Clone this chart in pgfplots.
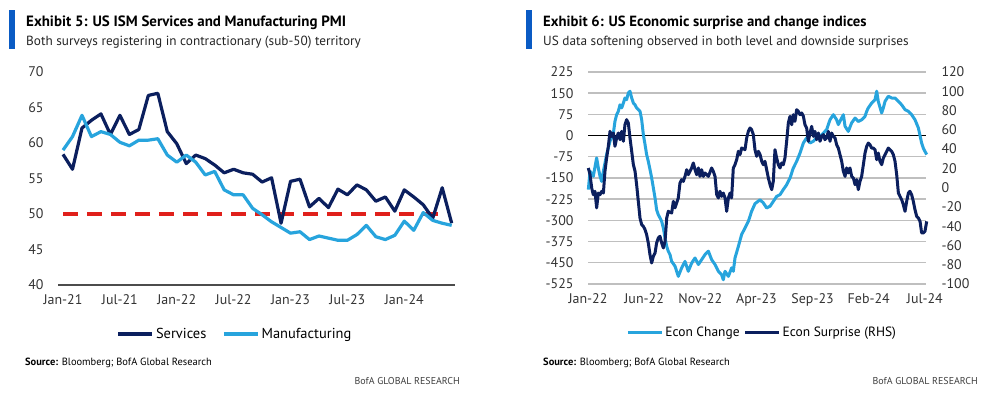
\documentclass[border=0pt]{standalone}
\usepackage{pgfplots}
\pgfplotsset{compat=1.18}
\usepackage{pgfplotstable}
\usepackage{fontspec}
\setmainfont{PT Sans}
\definecolor{navy}{HTML}{0B1F5E}
\definecolor{lblue}{HTML}{27A4DD}
\definecolor{bbar}{HTML}{0A5BC4}
\definecolor{pmired}{HTML}{E0201B}

\pgfplotstableread{
m services manufacturing
0 58.4 59.0
1 56.3 60.9
2 62.1 63.9
3 63.2 60.9
4 64.1 61.6
5 61.2 61.2
6 63.9 60.1
7 61.2 59.6
8 61.9 60.4
9 66.7 60.4
10 67.0 60.6
11 61.6 58.3
12 59.9 57.3
13 57.1 58.3
14 58.3 57.3
15 57.8 55.5
16 56.9 56.0
17 55.8 53.4
18 56.3 52.7
19 55.8 52.7
20 55.6 50.8
21 54.5 49.9
22 55.1 48.9
23 48.7 48.1
24 54.6 47.3
25 54.9 47.5
26 51.0 46.4
27 52.2 46.9
28 50.9 46.6
29 53.5 46.3
30 52.7 46.3
31 54.1 47.1
32 53.4 48.4
33 51.8 46.8
34 52.4 46.4
35 50.4 47.0
36 53.4 49.0
37 52.4 47.7
38 51.3 50.2
39 49.4 49.1
40 53.7 48.7
41 48.7 48.4
}\pmitable

\pgfplotstableread{
m change
0.03 -191
0.18 -126
0.47 -144
0.77 -79
0.92 -115
1.07 -144
1.22 -162
1.37 -126
1.66 -67
1.96 -20
2.26 9
2.40 50
2.55 74
2.70 86
2.85 109
3.00 98
3.15 115
3.29 133
3.44 127
3.59 151
3.74 157
3.89 133
4.04 115
4.19 109
4.33 98
4.48 92
4.63 86
4.78 56
4.93 3
5.08 -32
5.22 -67
5.37 -91
5.52 -120
5.67 -150
5.82 -185
5.97 -221
6.11 -262
6.26 -280
6.41 -291
6.56 -303
6.71 -327
6.86 -362
7.01 -392
7.15 -409
7.30 -421
7.45 -445
7.75 -462
8.04 -498
8.34 -468
8.64 -445
8.93 -480
9.23 -451
9.53 -433
9.83 -456
10.12 -439
10.42 -421
10.72 -409
11.01 -439
11.31 -456
11.61 -480
11.90 -492
12.05 -510
12.20 -480
12.50 -498
12.79 -468
12.94 -480
13.09 -433
13.39 -392
13.68 -350
13.98 -327
14.28 -303
14.57 -268
14.87 -241
15.32 -227
15.61 -238
15.91 -256
16.21 -250
16.50 -233
16.80 -215
17.10 -209
17.39 -191
17.69 -174
17.99 -150
18.28 -115
18.58 -91
18.88 -62
19.18 -26
19.47 -8
19.77 -26
20.07 -20
20.36 -8
20.66 -3
20.96 9
21.25 21
21.55 56
21.85 74
22.14 56
22.29 39
22.74 74
22.89 33
23.18 15
23.48 45
23.78 62
24.07 50
24.37 56
24.67 68
24.82 86
24.96 98
25.26 115
25.56 127
25.71 157
25.85 121
26.15 80
26.30 98
26.45 121
26.74 139
27.04 133
27.34 133
27.64 121
27.93 109
28.23 92
28.53 86
28.82 74
29.12 56
29.42 27
29.71 -26
29.86 -44
30.01 -56
30.16 -67
}\changetable

\pgfplotstableread{
m surprise
0.03 20.4
0.18 13.5
0.33 -0.4
0.47 -7.3
0.62 -3.8
0.77 -21
0.92 -5.6
1.07 -7.3
1.22 -3.8
1.37 -5.6
1.51 16.9
1.66 30.8
1.81 42.9
1.96 58.4
2.11 53.2
2.26 56.7
2.40 42.9
2.55 51.5
2.70 56.7
2.85 49.8
3.00 58.4
3.15 48.1
3.29 65.3
3.44 70.5
3.59 67.1
3.74 51.5
3.89 37.7
4.04 23.8
4.19 16.9
4.33 3.1
4.48 -14.2
4.63 -31.5
4.78 -38.4
4.93 -40.2
5.08 -43.6
5.22 -48.8
5.37 -57.4
5.52 -69.6
5.67 -78.2
5.82 -71.3
5.97 -67.8
6.11 -57.4
6.26 -52.3
6.41 -50.5
6.56 -57.4
6.71 -62.6
6.86 -55.7
7.01 -31.5
7.15 -24.6
7.45 -26.3
7.60 -14.2
7.75 -21
8.04 -10.7
8.19 4.8
8.34 8.3
8.49 6.5
8.64 11.7
8.79 18.6
8.93 13.4
9.23 20.4
9.38 25.6
9.53 18.6
9.68 13.4
9.83 20.4
9.97 11.7
10.12 18.6
10.27 11.7
10.42 15.2
10.72 11.7
11.01 20.4
11.16 16.9
11.31 11.7
11.46 -7.3
11.61 -10.7
11.75 -3.8
11.90 -9
12.05 -5.6
12.20 -10.7
12.35 -24.6
12.50 -10.7
12.65 -5.6
12.79 -10.7
12.94 20.4
13.09 23.8
13.24 29
13.39 37.7
13.54 34.3
13.68 41.1
13.98 39.4
14.13 51.5
14.28 58.4
14.43 61.9
14.57 60.2
14.72 55
14.87 39.4
15.02 32.5
15.17 37.7
15.32 34.3
15.47 27.3
15.61 23.8
15.76 27.3
15.91 18.6
16.06 10
16.21 3.1
16.36 -2.1
16.50 6.5
16.65 39.4
16.80 30.8
16.95 23.8
17.10 20.4
17.25 25.6
17.39 23.8
17.54 30.8
17.69 48.1
17.84 67.1
17.99 74
18.14 65.3
18.28 75.7
18.43 68.8
18.58 80.9
18.73 79.2
18.88 75.7
19.03 77.5
19.18 74
19.32 65.3
19.47 61.9
19.62 48.1
19.77 56.7
19.92 63.6
20.07 53.2
20.21 58.4
20.36 49.8
20.51 56.7
20.66 48.1
20.81 53.2
20.96 55
21.10 49.8
21.25 51.5
21.40 58.4
21.55 48.1
21.70 56.7
21.85 53.2
22.00 51.5
22.14 44.6
22.29 41.1
22.44 34.2
22.59 27.3
22.74 16.9
22.89 11.7
23.03 20.4
23.18 15.2
23.33 20.4
23.48 11.7
23.63 10
23.78 3.1
23.93 8.3
24.07 -2.1
24.22 6.5
24.37 11.7
24.52 23.8
24.67 35.9
24.82 42.9
24.96 46.3
25.11 44.6
25.26 41.1
25.41 41.1
25.56 39.4
25.71 29
25.85 35.9
26.00 27.3
26.15 23.8
26.30 30.8
26.45 34.2
26.60 37.7
26.74 41.1
26.89 39.4
27.04 37.7
27.19 34.2
27.34 27.3
27.49 13.4
27.64 -5.6
27.78 -9
27.93 -12.5
28.08 -17.7
28.23 -24.6
28.38 -14.2
28.53 -5.6
28.67 -3.8
28.82 -7.3
28.97 -14.2
29.12 -22.9
29.27 -29.8
29.42 -31.5
29.57 -35
29.71 -47
29.86 -47
30.01 -45.3
30.16 -35
}\surprisetable

\pgfplotsset{
  chartbase/.style={
    scale only axis,
    axis line style={draw=none},
    major tick length=0pt,
    tick label style={font=\fontsize{14}{14}\selectfont, text=black!80},
    /pgf/number format/assume math mode=true,
    legend style={draw=none, fill=none, legend columns=2, font=\fontsize{14.5}{14.5}\selectfont,
      nodes={inner xsep=2bp},
      /tikz/every even column/.append style={column sep=14bp}},
    legend image code/.code={\draw[#1] (0bp,0bp) -- (34bp,0bp);},
  },
}

\begin{document}
\begin{tikzpicture}
\useasboundingbox[fill=white] (0bp,0bp) rectangle (986bp,404bp);

% ---------- left panel header ----------
\fill[bbar] (9bp,355bp) rectangle (15bp,394bp);
\node[anchor=base west, inner sep=0, font=\bfseries\fontsize{15}{15}\selectfont] at (26bp,377bp) {Exhibit 5: US ISM Services and Manufacturing PMI};
\node[anchor=base west, inner sep=0, font=\fontsize{13.3}{13.3}\selectfont, text=black!85] at (26bp,358bp) {Both surveys registering in contractionary (sub-50) territory};

% ---------- right panel header ----------
\fill[bbar] (526bp,355bp) rectangle (532bp,394bp);
\node[anchor=base west, inner sep=0, font=\bfseries\fontsize{14.8}{14.8}\selectfont] at (543bp,377bp) {Exhibit 6: US Economic surprise and change indices};
\node[anchor=base west, inner sep=0, font=\fontsize{13.3}{13.3}\selectfont, text=black!85] at (543bp,358bp) {US data softening observed in both level and downside surprises};

% ---------- left chart ----------
\begin{axis}[chartbase,
  at={(58bp,119bp)}, anchor=south west, width=397bp, height=213bp,
  xmin=-0.53, xmax=41.35, ymin=40, ymax=70, clip=false,
  ytick={40,45,50,55,60,65,70},
  xtick={0,6,12,18,24,30,36},
  xticklabels={Jan-21,Jul-21,Jan-22,Jul-22,Jan-23,Jul-23,Jan-24},
  yticklabel style={xshift=-11bp},
  xticklabel style={yshift=-6bp},
  legend style={at={(0.446,-0.23)}, anchor=center},
]
\draw[black!70, line width=1.3bp] (axis cs:-0.53,40) -- (axis cs:41.35,40);
\addplot[pmired, line width=3.3bp, dash pattern=on 15bp off 9bp, forget plot] coordinates {(0,50) (40,50)};
\addplot[navy, line width=3.2bp, line join=round] table[x=m, y=services] {\pmitable};
\addlegendentry{Services}
\addplot[lblue, line width=3.2bp, line join=round] table[x=m, y=manufacturing] {\pmitable};
\addlegendentry{Manufacturing}
\end{axis}

% ---------- right chart, left axis ----------
\begin{axis}[chartbase,
  at={(588bp,120bp)}, anchor=south west, width=338bp, height=212bp,
  xmin=0, xmax=30.1, ymin=-525, ymax=225,
  ytick={-525,-450,-375,-300,-225,-150,-75,0,75,150,225},
  ymajorgrids, grid style={black!25, line width=1.4bp},
  xtick={0,5,10,15,20,25,30},
  xticklabels={Jan-22,Jun-22,Nov-22,Apr-23,Sep-23,Feb-24,Jul-24},
  yticklabel style={xshift=-11bp},
  xticklabel style={yshift=-6bp},
  clip=false,
]
\draw[black, line width=1.5bp] (axis cs:0,0) -- (axis cs:30.1,0);
\addplot[lblue, line width=3bp, line join=round] table[x=m, y=change] {\changetable};
\end{axis}

% ---------- right chart, right axis ----------
\begin{axis}[chartbase,
  at={(588bp,120bp)}, anchor=south west, width=338bp, height=212bp,
  xmin=0, xmax=30.1, ymin=-100, ymax=120,
  axis y line*=right, axis x line=none,
  ytick={-100,-80,-60,-40,-20,0,20,40,60,80,100,120},
  yticklabel style={xshift=12bp},
  legend style={at={(0.515,-0.23)}, anchor=center, font=\fontsize{13.5}{13.5}\selectfont,
    /tikz/every even column/.append style={column sep=2bp}},
  clip=false,
]
\addlegendimage{lblue, line width=3.2bp}
\addlegendentry{Econ Change}
\addplot[navy, line width=3bp, line join=round] table[x=m, y=surprise] {\surprisetable};
\addlegendentry{Econ Surprise (RHS)}
\end{axis}

% ---------- footers ----------
\node[anchor=base west, inner sep=0, font=\fontsize{10.5}{10.5}\selectfont] at (25bp,39bp) {\textbf{Source:} Bloomberg; BofA Global Research};
\node[anchor=base east, inner sep=0, font=\fontsize{10}{10}\selectfont, text=black!75] at (460bp,20bp) {BofA GLOBAL RESEARCH};
\node[anchor=base west, inner sep=0, font=\fontsize{10.5}{10.5}\selectfont] at (543bp,39bp) {\textbf{Source:} Bloomberg; BofA Global Research};
\node[anchor=base east, inner sep=0, font=\fontsize{10}{10}\selectfont, text=black!75] at (978bp,20bp) {BofA GLOBAL RESEARCH};
\end{tikzpicture}
\end{document}
